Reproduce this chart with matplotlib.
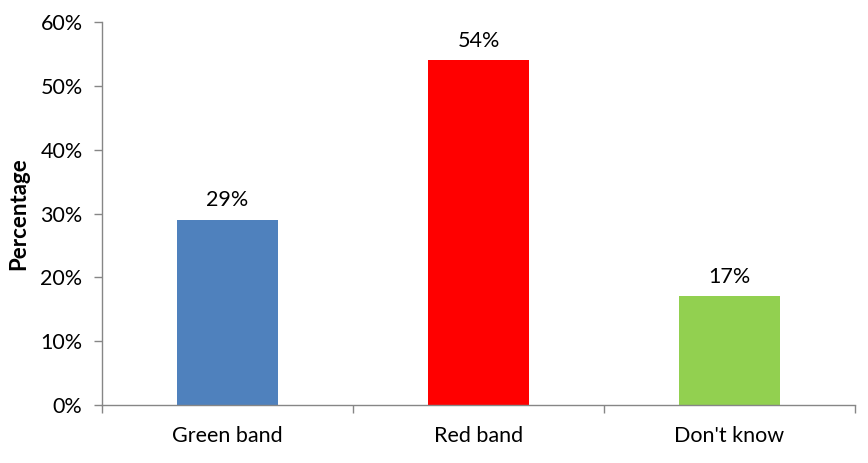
import matplotlib
matplotlib.use("Agg")
import matplotlib.pyplot as plt
import numpy as np
from matplotlib.ticker import FuncFormatter, FixedLocator

categories = ["Green band", "Red band", "Don't know"]
values = [29, 54, 17]
bar_colors = ["#4F81BD", "#FF0000", "#92D050"]
y_ticks = [0, 10, 20, 30, 40, 50, 60]

plt.rcParams["font.family"] = ["Lato", "DejaVu Sans"]

fig = plt.figure(figsize=(8.68, 4.63), dpi=100)
ax = fig.add_axes([102 / 868, 1 - 405 / 463, 753 / 868, 383 / 463])

x = np.arange(len(categories))
bars = ax.bar(x, values, width=0.4, color=bar_colors, zorder=2)

for rect, v in zip(bars, values):
    ax.annotate("%d%%" % v, (rect.get_x() + rect.get_width() / 2, v),
                xytext=(0, 7), textcoords="offset points",
                ha="center", va="bottom", fontsize=15.5, color="#000000")

ax.set_xlim(-0.5, len(categories) - 0.5)
ax.set_ylim(0, 60)
ax.set_yticks(y_ticks)
ax.yaxis.set_major_formatter(FuncFormatter(lambda v, p: "%d%%" % v))

ax.set_xticks(x)
ax.set_xticklabels(categories)
ax.xaxis.set_minor_locator(FixedLocator(np.arange(len(categories) + 1) - 0.5))
ax.tick_params(axis="x", which="major", length=0, pad=15, labelsize=15.5)
ax.tick_params(axis="x", which="minor", length=6, width=1, color="#868686", direction="out")
ax.tick_params(axis="y", length=6, width=1, color="#868686", direction="out", pad=8, labelsize=15.5)

for side in ["top", "right"]:
    ax.spines[side].set_visible(False)
for side in ["left", "bottom"]:
    ax.spines[side].set_color("#868686")
    ax.spines[side].set_linewidth(1)

ax.set_ylabel("Percentage", fontsize=16, fontweight="bold", labelpad=8)

fig.savefig("out.png", dpi=100)
